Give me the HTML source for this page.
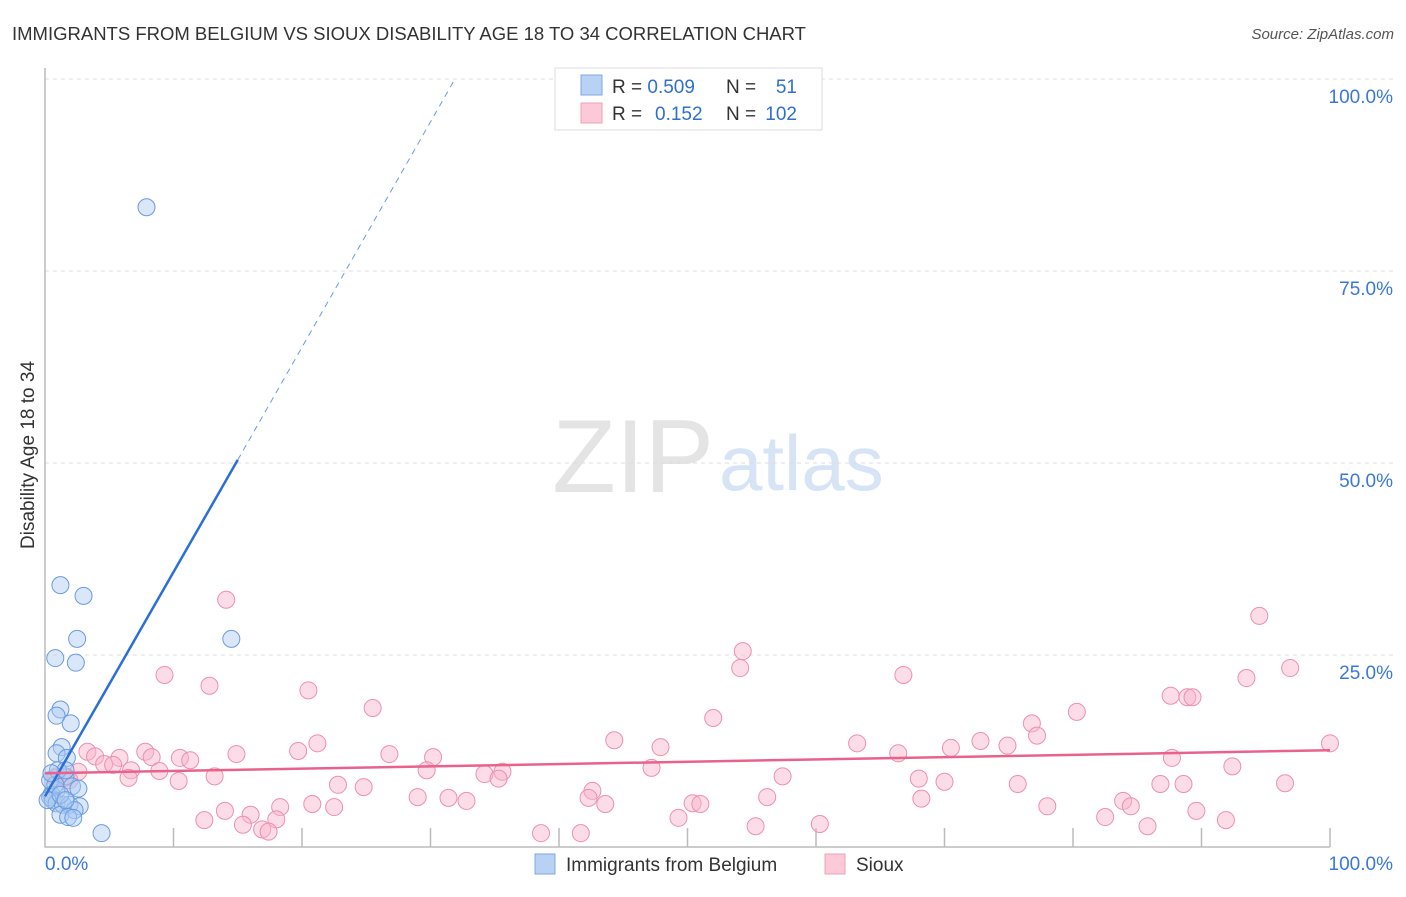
<!DOCTYPE html>
<html><head><meta charset="utf-8"><style>
body{margin:0;background:#fff;font-family:"Liberation Sans",sans-serif;}
svg text{font-family:"Liberation Sans",sans-serif;}
</style></head><body>
<svg id="c" width="1406" height="892" xmlns="http://www.w3.org/2000/svg">
<text x="12" y="40" font-size="18.5" fill="#333">IMMIGRANTS FROM BELGIUM VS SIOUX DISABILITY AGE 18 TO 34 CORRELATION CHART</text>
<text x="1394" y="39" font-size="15" fill="#555" font-style="italic" text-anchor="end">Source: ZipAtlas.com</text>
<text x="714" y="492" font-size="104" fill="#e4e4e4" text-anchor="end" font-family="Liberation Serif">ZIP</text>
<text x="719" y="490" font-size="78" fill="#d6e4f5">atlas</text>
<text transform="translate(34,455) rotate(-90)" font-size="19" fill="#333" text-anchor="middle">Disability Age 18 to 34</text>
<g id="grid"></g><g id="marks"></g>
<g>
<rect x="555" y="68" width="267" height="62" fill="#fff" stroke="#ddd"/>
<rect x="581" y="75" width="21" height="20" fill="#b7d2f5" stroke="#7ea8e0"/>
<rect x="581" y="103" width="21" height="20" fill="#fbc9d8" stroke="#f0a0b8"/>
<text x="612" y="93" font-size="19" fill="#333">R = <tspan fill="#2f6fd0">0.509</tspan></text>
<text x="726" y="93" font-size="19" fill="#333">N =</text><text x="797" y="93" font-size="19" fill="#2f6fd0" text-anchor="end">51</text>
<text x="612" y="120" font-size="19" fill="#333">R = </text><text x="655" y="120" font-size="19" fill="#2f6fd0">0.152</text>
<text x="726" y="120" font-size="19" fill="#333">N =</text><text x="797" y="120" font-size="19" fill="#2f6fd0" text-anchor="end">102</text>
</g>
<g>
<rect x="535" y="854" width="20" height="20" fill="#b7d2f5" stroke="#7ea8e0"/>
<text x="566" y="871" font-size="19" fill="#333">Immigrants from Belgium</text>
<rect x="825" y="854" width="20" height="20" fill="#fbc9d8" stroke="#f0a0b8"/>
<text x="856" y="871" font-size="19" fill="#333">Sioux</text>
</g>
</svg>
<script>
const yTicks=[25,50,75,100];
const yTickLabels=["25.0%","50.0%","75.0%","100.0%"];
const blueX=[7.9,1.2,3.0,2.5,14.5,0.8,2.4,1.2,0.9,2.0,1.3,0.9,1.7,1.6,2.1,2.6,0.9,0.5,0.4,0.6,0.9,1.4,1.9,2.7,2.3,1.2,1.8,2.2,4.4,0.4,0.8,0.2,1.2,1.6,1.0,1.6,0.5];
const blueY=[83.3,34.1,32.7,27.1,27.1,24.6,24.0,17.9,17.1,16.1,13.0,12.2,11.6,9.2,7.9,7.6,7.4,6.8,6.5,6.1,5.7,5.5,5.5,5.3,4.8,4.2,3.9,3.8,1.8,8.7,8.1,6.1,6.8,6.1,10.0,10.0,9.6];
const pinkX=[14.1,9.3,12.8,20.5,25.5,54.3,54.1,66.8,94.5,96.9,93.5,87.6,88.9,89.3,52.0,80.3,76.8,77.2,44.3,47.9,63.2,66.4,70.5,72.8,74.9,87.7,21.2,19.7,14.9,26.8,30.2,3.3,3.9,5.8,7.8,8.3,10.5,11.3,4.6,5.3,6.7,8.9,0.9,1.6,2.6,6.5,13.2,10.4,29.7,34.2,35.6,47.2,57.4,92.4,35.3,68.0,70.0,75.7,86.8,88.6,96.5,22.8,24.8,42.6,42.3,29.0,31.4,32.8,43.6,56.2,50.4,51.0,68.2,83.9,84.5,78.0,20.8,22.5,14.0,16.0,18.3,18.0,12.4,15.4,16.9,17.4,49.3,55.3,60.3,82.5,85.8,89.6,91.9,38.6,41.7,100,0.8,1.9];
const pinkY=[32.2,22.4,21.0,20.4,18.1,25.5,23.3,22.4,30.1,23.3,22.0,19.7,19.5,19.5,16.8,17.6,16.1,14.5,13.9,13.0,13.5,12.2,12.9,13.8,13.2,11.6,13.5,12.5,12.1,12.1,11.7,12.4,11.8,11.6,12.4,11.7,11.6,11.3,10.8,10.7,10.0,9.9,9.2,9.0,9.8,9.0,9.2,8.6,10.0,9.5,9.8,10.3,9.2,10.5,8.9,8.9,8.5,8.2,8.2,8.2,8.3,8.1,7.8,7.3,6.4,6.5,6.4,6.0,5.6,6.5,5.7,5.6,6.3,6.0,5.3,5.3,5.6,5.2,4.7,4.2,5.2,3.6,3.5,2.9,2.3,2.0,3.8,2.7,3.0,3.9,2.7,4.7,3.5,1.8,1.8,13.5,9.0,8.7];
const blueTrend=[6.6,50.4,100]; const blueTrendX=[0,15.0,31.9];
const pinkTrend=[9.6,12.6]; const pinkTrendX=[0,100];
const X=v=>45+v*12.85, Y=v=>847-v*7.68;
const NS="http://www.w3.org/2000/svg";
const grid=document.getElementById('grid'), marks=document.getElementById('marks');
function mk(tag,at,par){const e=document.createElementNS(NS,tag);for(const k in at)e.setAttribute(k,at[k]);par.appendChild(e);return e;}
yTicks.forEach((t,i)=>{
 const l=mk('line',{x1:45,x2:1395,y1:Y(t),y2:Y(t),stroke:'#ddd','stroke-dasharray':'4,4'},grid);
 
 
 const tx=mk('text',{x:1393,y:Y(t)+24,'font-size':19,fill:'#3a78d8','text-anchor':'end'},grid);
 tx.textContent=yTickLabels[i];
 
 
});
const ax=mk('path',{d:`M45,68V847H1330`,stroke:'#bbb',fill:'none','stroke-width':1.5},grid);


for(let i=1;i<=10;i++){const t=mk('line',{x1:X(i*10),x2:X(i*10),y1:828,y2:847,stroke:'#bbb','stroke-width':1.5},grid);
 
 }
[["0.0%",45,'start'],["100.0%",1393,'end']].forEach(a=>{const t=mk('text',{x:a[1],y:870,'font-size':19,fill:'#3a78d8','text-anchor':a[2]},grid);t.textContent=a[0];
 
 });
pinkX.forEach((v,i)=>{const c=mk('circle',{cx:X(v),cy:Y(pinkY[i]),r:8.5,fill:'rgba(248,180,202,0.45)',stroke:'#ee8fae','stroke-width':1},marks);
 
 });
blueX.forEach((v,i)=>{const c=mk('circle',{cx:X(v),cy:Y(blueY[i]),r:8.5,fill:'rgba(170,202,242,0.45)',stroke:'#6a9be0','stroke-width':1},marks);
 
 });
let l1=mk('line',{x1:X(blueTrendX[0]),y1:Y(blueTrend[0]),x2:X(blueTrendX[1]),y2:Y(blueTrend[1]),stroke:'#2a6fd6','stroke-width':2.5},marks);


let l2=mk('line',{x1:X(blueTrendX[1]),y1:Y(blueTrend[1]),x2:X(blueTrendX[2]),y2:Y(blueTrend[2]),stroke:'#6a9be0','stroke-width':1,'stroke-dasharray':'6,5'},marks);


let l3=mk('line',{x1:X(pinkTrendX[0]),y1:Y(pinkTrend[0]),x2:X(pinkTrendX[1]),y2:Y(pinkTrend[1]),stroke:'#e8628c','stroke-width':2.5},marks);


</script>
</body></html>
